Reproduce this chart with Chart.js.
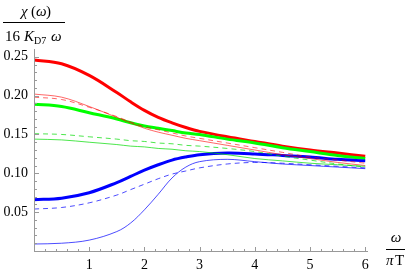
<!DOCTYPE html>
<html>
<head>
<meta charset="utf-8">
<script src="https://cdn.jsdelivr.net/npm/chart.js@4/dist/chart.umd.min.js"></script>
<style>
  html, body { margin: 0; padding: 0; background: #fff; }
  #wrap { width: 409px; height: 273px; }
</style>
</head>
<body>
<div id="wrap"><canvas id="myChart" width="409" height="273"></canvas></div>
<script>
// omega / (pi T)
var omega = [0, 0.5, 1, 1.5, 1.75, 2, 2.25, 2.5, 2.75, 3, 3.5, 4, 4.5, 5, 5.5, 6];

var redThick   = [0.246, 0.241, 0.226, 0.204, 0.192, 0.181, 0.172, 0.165, 0.159, 0.154, 0.147, 0.141, 0.135, 0.130, 0.126, 0.122];
var redDashed  = [0.198, 0.195, 0.185, 0.173, 0.166, 0.160, 0.156, 0.152, 0.148, 0.145, 0.139, 0.133, 0.127, 0.121, 0.117, 0.113];
var redThin    = [0.202, 0.198, 0.186, 0.172, 0.165, 0.158, 0.153, 0.149, 0.145, 0.142, 0.136, 0.130, 0.124, 0.119, 0.114, 0.110];

var greenThick  = [0.189, 0.186, 0.178, 0.170, 0.165, 0.161, 0.158, 0.155, 0.152, 0.150, 0.144, 0.139, 0.133, 0.128, 0.123, 0.119];
var greenDashed = [0.151, 0.150, 0.147, 0.144, 0.142, 0.141, 0.139, 0.138, 0.136, 0.135, 0.132, 0.128, 0.122, 0.117, 0.112, 0.108];
var greenThin   = [0.144, 0.143, 0.140, 0.137, 0.135, 0.134, 0.132, 0.131, 0.129, 0.128, 0.124, 0.119, 0.116, 0.113, 0.111, 0.109];

var blueThick  = [0.066, 0.068, 0.075, 0.088, 0.096, 0.104, 0.111, 0.117, 0.121, 0.124, 0.126, 0.125, 0.123, 0.121, 0.118, 0.116];
var blueDashed = [0.054, 0.056, 0.062, 0.072, 0.079, 0.086, 0.093, 0.099, 0.103, 0.107, 0.112, 0.114, 0.113, 0.111, 0.109, 0.107];
var blueThin   = [0.009, 0.010, 0.014, 0.025, 0.036, 0.053, 0.073, 0.094, 0.108, 0.115, 0.118, 0.115, 0.112, 0.110, 0.108, 0.106];

var xTicks = [1, 2, 3, 4, 5, 6];
var xTickLabels = ['1', '2', '3', '4', '5', '6'];
var yTicks = [0.05, 0.10, 0.15, 0.20, 0.25];
var yTickLabels = ['0.05', '0.10', '0.15', '0.20', '0.25'];

function pts(ys) {
    return ys.map(function (v, i) { return { x: omega[i], y: v }; });
}

function line(ys, color, width, dash) {
    return {
        data: pts(ys),
        borderColor: color,
        borderWidth: width,
        borderDash: dash || [],
        pointRadius: 0,
        fill: false,
        tension: 0.35
    };
}

// Mathematica-style axes: inward ticks plus the fraction labels
var axesPlugin = {
    id: 'axesPlugin',
    afterDraw: function (chart) {
        var ctx = chart.ctx;
        var xs = chart.scales.x, ys = chart.scales.y;
        var x0 = xs.getPixelForValue(0), y0 = ys.getPixelForValue(0);
        ctx.save();
        ctx.strokeStyle = '#999';
        ctx.lineWidth = 1;
        ctx.beginPath();
        ctx.moveTo(x0 + 0.5, y0);
        ctx.lineTo(x0 + 0.5, chart.chartArea.top);
        ctx.moveTo(x0, y0 + 0.5);
        ctx.lineTo(chart.chartArea.right, y0 + 0.5);
        ctx.stroke();

        ctx.beginPath();
        for (var i = 1; i <= 30; i++) {
            var px = Math.round(xs.getPixelForValue(i * 0.2)) + 0.5;
            var len = (i % 5 === 0) ? 4 : 2;
            ctx.moveTo(px, y0 + 1);
            ctx.lineTo(px, y0 - len);
        }
        for (var j = 1; j <= 25; j++) {
            var py = Math.round(ys.getPixelForValue(j * 0.01)) + 0.5;
            var l2 = (j % 5 === 0) ? 4 : 2;
            ctx.moveTo(x0, py);
            ctx.lineTo(x0 + 1 + l2, py);
        }
        ctx.stroke();

        // y label: chi(omega) / (16 K_D7 omega)
        ctx.fillStyle = '#000';
        ctx.textBaseline = 'alphabetic';
        ctx.textAlign = 'left';
        ctx.font = 'italic 15px "Liberation Serif"';
        ctx.fillText('\u03C7', 21, 16);
        ctx.font = '15px "Liberation Serif"';
        ctx.fillText('(', 31, 16);
        ctx.font = 'italic 15px "Liberation Serif"';
        ctx.fillText('\u03C9', 36, 16);
        ctx.font = '15px "Liberation Serif"';
        ctx.fillText(')', 46, 16);

        ctx.beginPath();
        ctx.strokeStyle = '#000';
        ctx.moveTo(3, 22.5);
        ctx.lineTo(65, 22.5);
        ctx.stroke();

        ctx.font = '15px "Liberation Serif"';
        ctx.fillText('16', 5, 41);
        ctx.font = 'italic 15px "Liberation Serif"';
        ctx.fillText('K', 24, 41);
        ctx.font = '10px "Liberation Serif"';
        ctx.fillText('D7', 34, 44);
        ctx.font = 'italic 15px "Liberation Serif"';
        ctx.fillText('\u03C9', 51, 41);

        // x label: omega / (pi T)
        ctx.textAlign = 'center';
        ctx.font = 'italic 15px "Liberation Serif"';
        ctx.fillText('\u03C9', 396, 242);
        ctx.beginPath();
        ctx.moveTo(386, 249.5);
        ctx.lineTo(405, 249.5);
        ctx.stroke();
        ctx.textAlign = 'left';
        ctx.font = 'italic 15px "Liberation Serif"';
        ctx.fillText('\u03C0', 386, 265);
        ctx.font = '15px "Liberation Serif"';
        ctx.fillText('T', 395, 265);
        ctx.restore();
    }
};

Chart.defaults.font.family = '"Liberation Serif", serif';
Chart.defaults.font.size = 14;
Chart.defaults.color = '#000';

var ctx = document.getElementById('myChart').getContext('2d');
var chart = new Chart(ctx, {
    type: 'line',
    data: {
        datasets: [
            line(blueThin, 'rgba(0,0,255,0.7)', 1),
            line(blueDashed, 'rgba(0,0,255,0.7)', 1, [5, 4]),
            line(greenThin, 'rgba(0,220,0,0.7)', 1),
            line(greenDashed, 'rgba(0,220,0,0.7)', 1, [5, 4]),
            line(redThin, 'rgba(255,0,0,0.6)', 1),
            line(redDashed, 'rgba(255,0,0,0.6)', 1, [5, 4]),
            line(blueThick, '#0000ff', 3),
            line(greenThick, '#00ff00', 3),
            line(redThick, '#ff0000', 3)
        ]
    },
    options: {
        responsive: false,
        animation: false,
        layout: { padding: { left: 0, right: 41, top: 49, bottom: 0 } },
        plugins: { legend: { display: false }, tooltip: { enabled: false } },
        scales: {
            x: {
                type: 'linear',
                min: 0,
                max: 6.05,
                grid: { display: false, drawTicks: false },
                border: { display: false },
                afterBuildTicks: function (s) { s.ticks = xTicks.map(function (v) { return { value: v }; }); },
                afterFit: function (s) { s.height = 22; },
                ticks: {
                    padding: 6,
                    maxRotation: 0,
                    callback: function (v, i) { return xTickLabels[i]; }
                }
            },
            y: {
                min: 0,
                max: 0.26,
                grid: { display: false, drawTicks: false },
                border: { display: false },
                afterBuildTicks: function (s) { s.ticks = yTicks.map(function (v) { return { value: v }; }); },
                afterFit: function (s) { s.width = 34; },
                ticks: {
                    padding: 6,
                    callback: function (v, i) { return yTickLabels[i]; }
                }
            }
        }
    },
    plugins: [axesPlugin]
});
</script>
</body>
</html>
